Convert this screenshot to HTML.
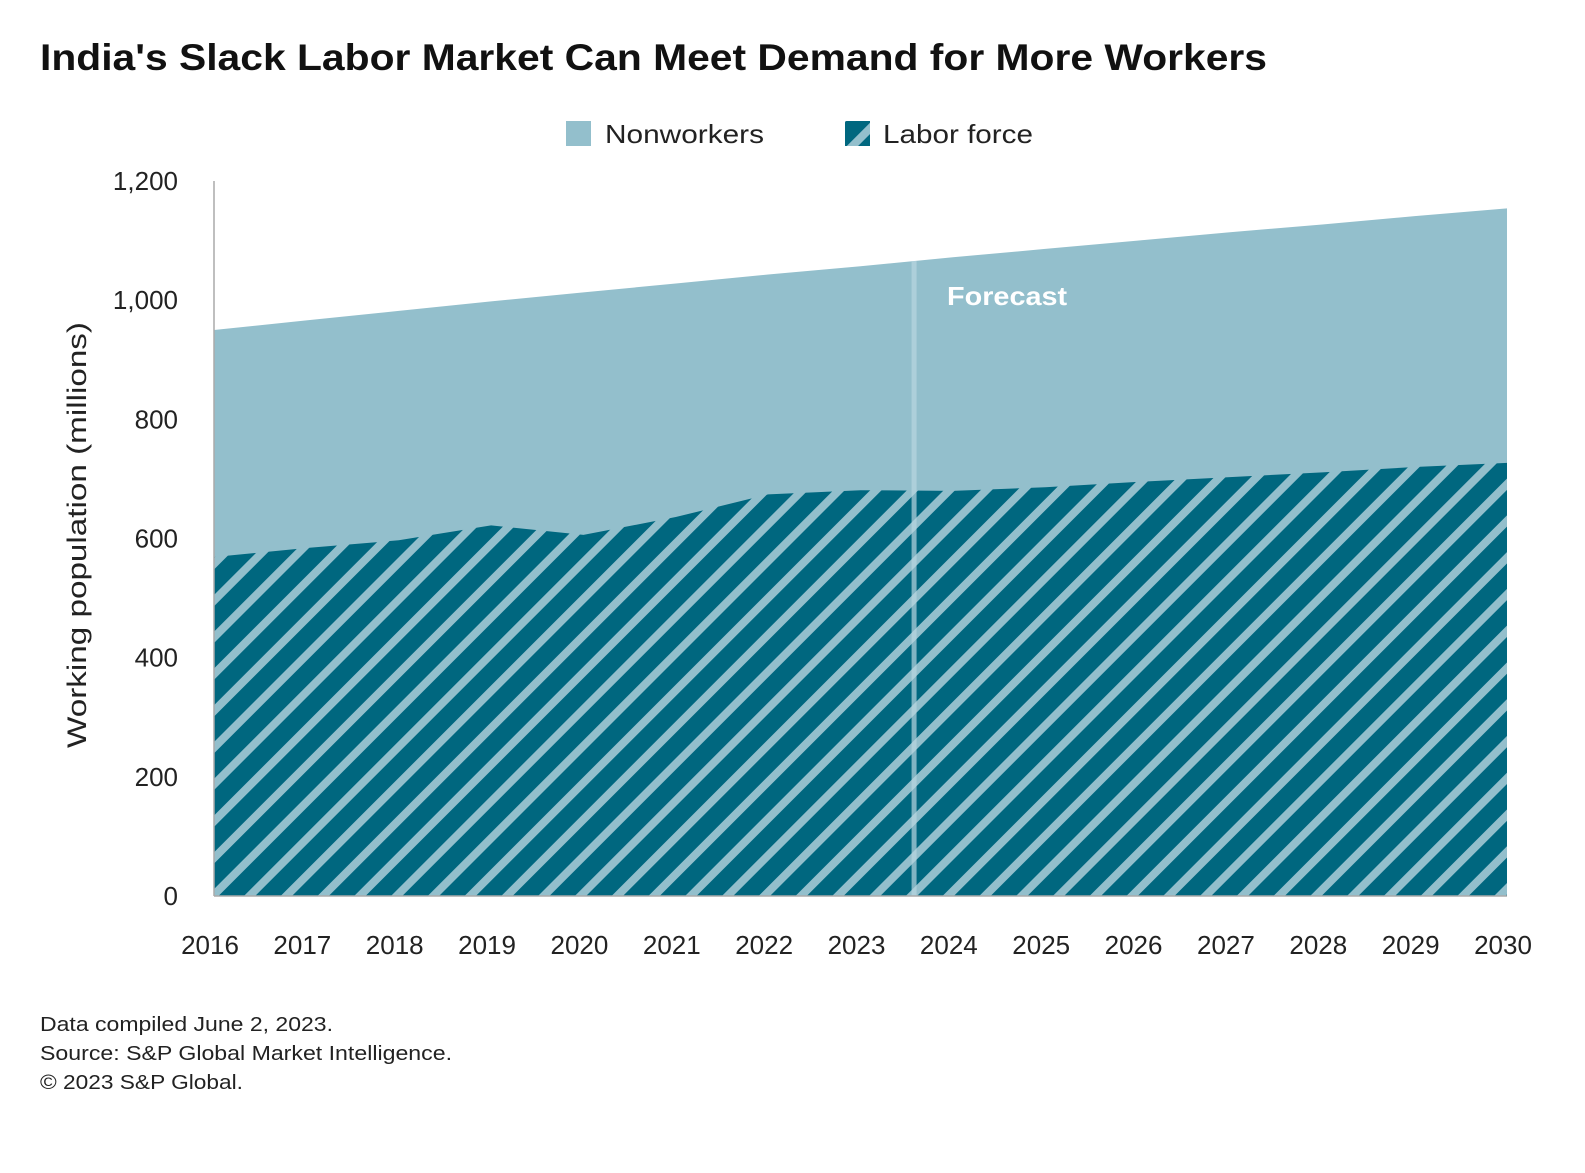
<!DOCTYPE html>
<html><head><meta charset="utf-8"><style>
body{margin:0;background:#fff;width:1585px;height:1168px;overflow:hidden;font-family:"Liberation Sans",sans-serif;}
</style></head><body>
<svg width="1585" height="1168">
<defs>
<pattern id="hatch" patternUnits="userSpaceOnUse" width="26" height="26" patternTransform="rotate(45)">
<rect width="26" height="26" fill="#00677f"/>
<rect x="0" y="0" width="8" height="26" fill="#93bfcc"/>
</pattern>
</defs>
<text x="40" y="70" font-size="37" font-weight="bold" fill="#111" textLength="1227" lengthAdjust="spacingAndGlyphs">India's Slack Labor Market Can Meet Demand for More Workers</text>
<g>
<rect x="566" y="121" width="25" height="25" fill="#93bfcc"/>
<text x="605" y="143" font-size="26" fill="#222" textLength="159" lengthAdjust="spacingAndGlyphs">Nonworkers</text>
<rect x="845" y="121" width="25" height="25" fill="url(#hatch)"/>
<text x="883" y="143" font-size="26" fill="#222" textLength="150" lengthAdjust="spacingAndGlyphs">Labor force</text>
</g>
<text transform="translate(86,535) rotate(-90)" text-anchor="middle" font-size="27" fill="#222" textLength="426" lengthAdjust="spacingAndGlyphs">Working population (millions)</text>
<g id="plot"></g>
<g font-size="20" fill="#222">
<text x="40" y="1031" textLength="293" lengthAdjust="spacingAndGlyphs">Data compiled June 2, 2023.</text>
<text x="40" y="1060" textLength="412" lengthAdjust="spacingAndGlyphs">Source: S&amp;P Global Market Intelligence.</text>
<text x="40" y="1089" textLength="203" lengthAdjust="spacingAndGlyphs">© 2023 S&amp;P Global.</text>
</g>
</svg>
<script>
const years=[2016,2017,2018,2019,2020,2021,2022,2023,2024,2025,2026,2027,2028,2029,2030];
const total=[950,966,982,998,1013,1028,1043,1057,1072,1086,1100,1114,1127,1141,1154];
const labor=[569,584,597,622,606,636,674,681,680,686,695,703,711,720,727];
const yTicks=[0,200,400,600,800,1000,1200];
const forecastAt=2023.58;
const ns="http://www.w3.org/2000/svg";
const g=document.getElementById('plot');
const X=v=>214+(v-2016)*(1507-214)/14;
const Y=v=>896-v*(896-181)/1200;
function mk(t,a){const e=document.createElementNS(ns,t);for(const k in a)e.setAttribute(k,a[k]);g.appendChild(e);return e;}
function area(vals){let d='M'+X(years[0])+','+Y(0);years.forEach((y,i)=>d+='L'+X(y)+','+Y(vals[i]));d+='L'+X(years[years.length-1])+','+Y(0)+'Z';return d;}
const a1=mk('path',{d:area(total),fill:'#93bfcc'});


const a2=mk('path',{d:area(labor),fill:'url(#hatch)'});


const fi=years.findIndex(y=>y>forecastAt);
const ft=total[fi-1]+(total[fi]-total[fi-1])*(forecastAt-years[fi-1]);
const fl=mk('line',{x1:X(forecastAt),x2:X(forecastAt),y1:Y(0),y2:Y(ft),stroke:'#b8d6df','stroke-width':5,'stroke-opacity':0.7});


const ftx=mk('text',{x:X(forecastAt)+33,y:305,'font-size':26,'font-weight':'bold',fill:'#fff',textLength:120,lengthAdjust:'spacingAndGlyphs'});
ftx.textContent='Forecast';


const ax=mk('line',{x1:214,x2:214,y1:181,y2:896,stroke:'#aaa','stroke-width':1.5});


const bx=mk('line',{x1:214,x2:1507,y1:896,y2:896,stroke:'#aaa','stroke-width':1.5});


yTicks.forEach(v=>{const t=mk('text',{x:178,y:Y(v)+9,'text-anchor':'end','font-size':26,fill:'#222'});t.textContent=v.toLocaleString('en-US');

});
years.forEach(y=>{const t=mk('text',{x:X(y)-4,y:954,'text-anchor':'middle','font-size':26,fill:'#222'});t.textContent=y;

});
</script>
</body></html>
